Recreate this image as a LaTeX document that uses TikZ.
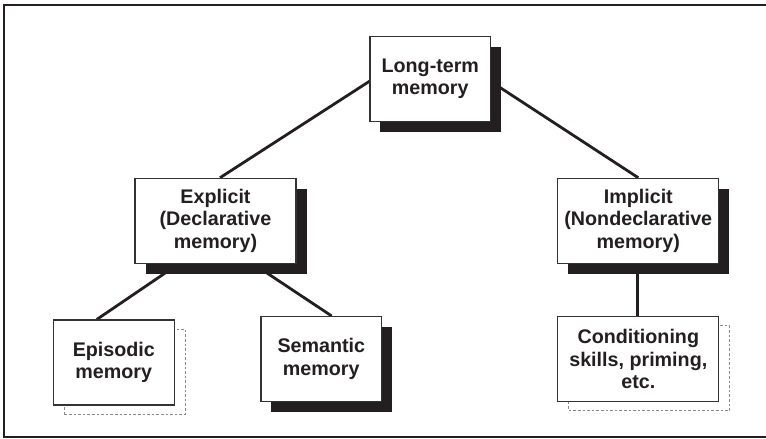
\documentclass[tikz,border=0pt]{standalone}
\usepackage{fontspec}
\setmainfont{Liberation Sans}
\usetikzlibrary{shadows}
\definecolor{ink}{HTML}{231F20}
\definecolor{rim}{HTML}{333333}
\definecolor{dashgray}{HTML}{8A8A8A}
\pgfdeclarelayer{background}
\pgfsetlayers{background,main}
\tikzset{
  membox/.style={draw=rim, line width=1.1pt, fill=white, align=center, text=ink,
    inner sep=0pt, font=\bfseries\fontsize{19.7}{22.6}\selectfont},
  narrowbox/.style={membox, minimum width=120.7pt, minimum height=84.5pt},
  widebox/.style={membox, minimum width=161pt, minimum height=85pt},
  solidshadow/.style={general shadow={fill=ink, shadow xshift=10.5pt, shadow yshift=-10.5pt}},
  dashshadow/.style={general shadow={draw=dashgray, fill=white, line width=0.9pt,
    dash pattern=on 2.6pt off 2pt, shadow xshift=11pt, shadow yshift=-9pt}},
  link/.style={draw=ink, line width=2.8pt},
  frame/.style={draw=ink, line width=2.2pt}
}
\begin{document}
\begin{tikzpicture}[x=1pt, y=-1pt]
\useasboundingbox (0,0) rectangle (766,439);

% outer frame (open on the right)
\draw[frame] (766,5) -- (4,5) -- (4,437.3) -- (766,437.3);

% memory boxes
\node[narrowbox, solidshadow] (lt) at (430.3,78.8) {Long-term\\memory};
\node[widebox, solidshadow] (ex) at (215.5,220.8) {Explicit\\(Declarative\\memory)};
\node[widebox, solidshadow] (im) at (638.3,220.8) {Implicit\\(Nondeclarative\\memory)};
\node[narrowbox, minimum height=85pt, dashshadow] (ep) at (113.8,362.5) {Episodic\\memory};
\node[narrowbox, solidshadow] (se) at (321.3,358.8) {Semantic\\memory};
\node[widebox, dashshadow] (co) at (638.3,359.3) {Conditioning\\skills, priming,\\etc.};

% connectors, behind the boxes
\begin{pgfonlayer}{background}
  \coordinate (lthub) at ([yshift=-6pt]lt.north);
  \draw[link] (lthub) -- ([xshift=4.5pt]ex.north);
  \draw[link] (lthub) -- (im.north);
  \coordinate (exhub) at ([yshift=-18pt]ex.center);
  \draw[link] (exhub) -- ([xshift=-17pt]ep.north);
  \draw[link] (exhub) -- ([xshift=10.4pt]se.north);
  \draw[link] ([xshift=-0.6pt]im.south) -- ([xshift=-0.6pt]co.north);
\end{pgfonlayer}
\end{tikzpicture}
\end{document}
